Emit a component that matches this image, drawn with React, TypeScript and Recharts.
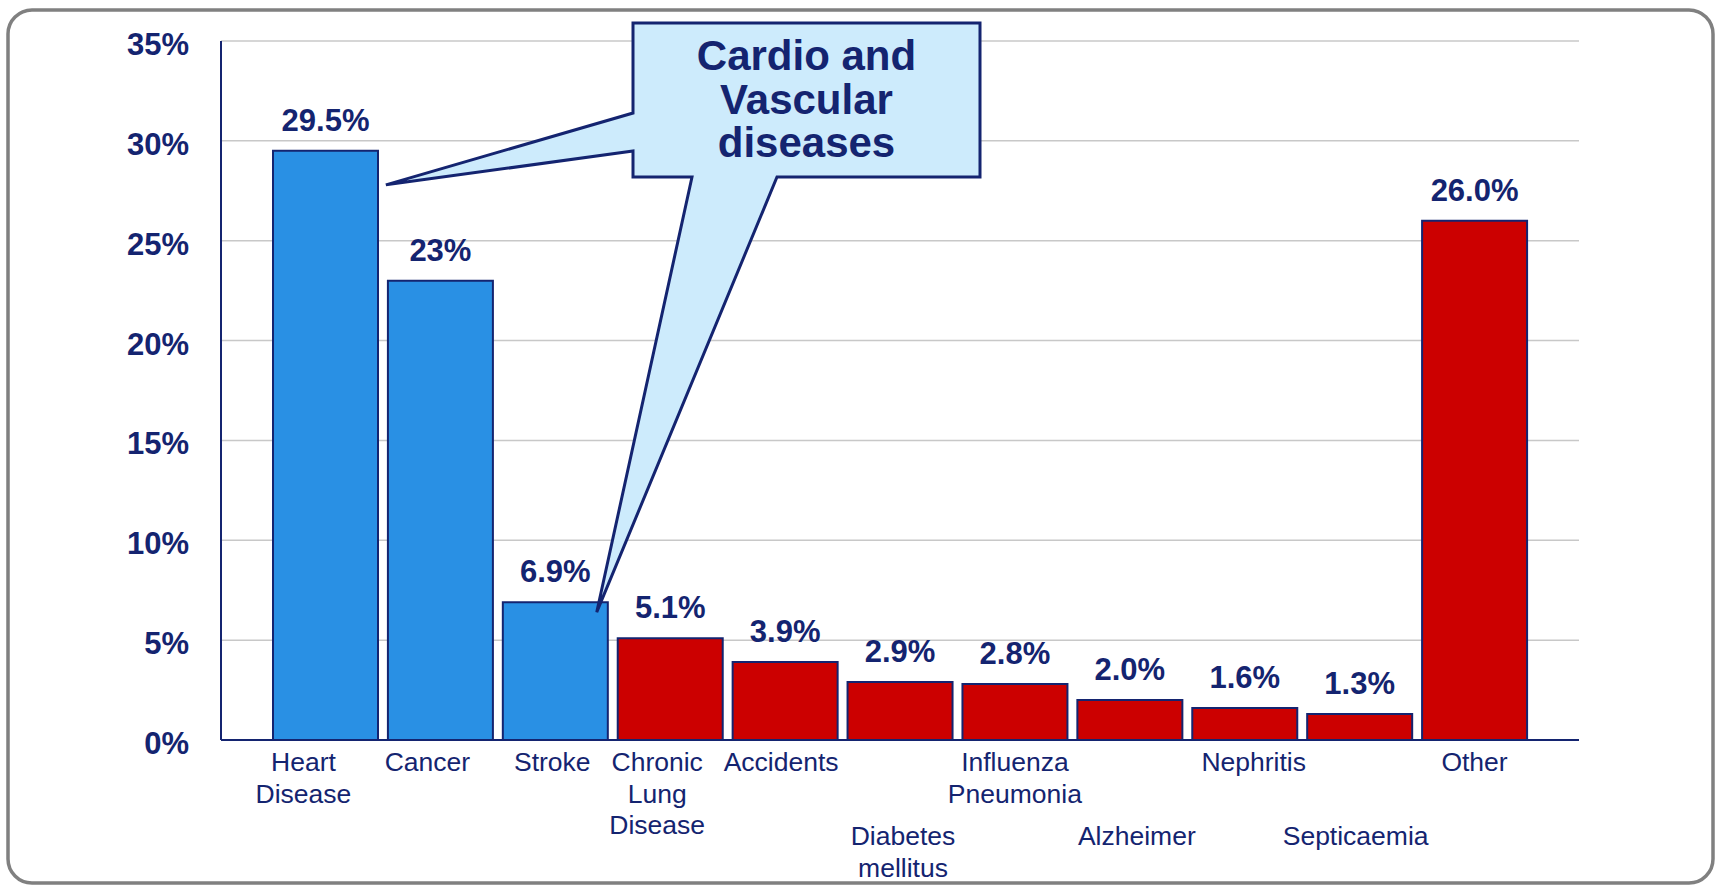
import { BarChart, Bar, XAxis, YAxis, CartesianGrid, Cell, LabelList } from 'recharts';

const categories = [
  'Heart Disease',
  'Cancer',
  'Stroke',
  'Chronic Lung Disease',
  'Accidents',
  'Diabetes mellitus',
  'Influenza Pneumonia',
  'Alzheimer',
  'Nephritis',
  'Septicaemia',
  'Other',
];
const shares = [29.5, 23, 6.9, 5.1, 3.9, 2.9, 2.8, 2.0, 1.6, 1.3, 26.0];
const shareLabels = ['29.5%', '23%', '6.9%', '5.1%', '3.9%', '2.9%', '2.8%', '2.0%', '1.6%', '1.3%', '26.0%'];
const yTicks = [0, 5, 10, 15, 20, 25, 30, 35];
const blueCategories = ['Heart Disease', 'Cancer', 'Stroke'];
const calloutLines = ['Cardio and', 'Vascular', 'diseases'];

const data = categories.map((name, i) => ({ name, value: shares[i], label: shareLabels[i] }));

// layout
const W = 1716;
const H = 886;
const PLOT_LEFT = 221;
const PLOT_RIGHT = 1579;
const PLOT_TOP = 41;
const PLOT_BOTTOM = 740;
const Y_AXIS_W = 121;
const X_PAD = 47;
const BAR_GAP = 5;

const NAVY = '#142470';
const BLUE = '#2990e4';
const RED = '#cc0000';
const FONT = '"Liberation Sans", Arial, sans-serif';

// staggered labels sit on a second row; the original labels are not quite centred
const lowerRow = ['Diabetes mellitus', 'Alzheimer', 'Septicaemia'];
const labelShift = [-22, -13, -3, -13, -4, 3, 0, 7, 9, -4, 0];

const yOf = (v: number) => PLOT_BOTTOM - (v / 35) * (PLOT_BOTTOM - PLOT_TOP);
const band = (PLOT_RIGHT - PLOT_LEFT - 2 * X_PAD) / categories.length;
const barRight = (i: number) => PLOT_LEFT + X_PAD + (i + 1) * band - BAR_GAP;

function CategoryTick({ x, y, payload, index }: any) {
  const words = String(payload.value).split(' ');
  const first = y + (lowerRow.includes(payload.value) ? 105 : 31);
  const tx = x + (labelShift[index] || 0);
  return (
    <text x={tx} y={first} textAnchor="middle" fill={NAVY} fontSize={26.5} fontFamily={FONT}>
      {words.map((w, k) => (
        <tspan key={k} x={tx} dy={k === 0 ? 0 : 31.5}>
          {w}
        </tspan>
      ))}
    </text>
  );
}

function PercentTick({ x, y, payload }: any) {
  return (
    <text x={x} y={y + 14} textAnchor="end" fill={NAVY} fontSize={31} fontWeight="bold" fontFamily={FONT}>
      {payload.value}%
    </text>
  );
}

function Callout() {
  const box = { x1: 633, y1: 23, x2: 980, y2: 177 };
  const tipA = { x: barRight(0) + 8, y: yOf(shares[0]) + 34 };
  const tipB = { x: barRight(2) - 11, y: yOf(shares[2]) + 10 };
  const d = [
    `M ${box.x1} ${box.y1}`,
    `L ${box.x2} ${box.y1}`,
    `L ${box.x2} ${box.y2}`,
    `L 777 ${box.y2}`,
    `L ${tipB.x} ${tipB.y}`,
    `L 692 ${box.y2}`,
    `L ${box.x1} ${box.y2}`,
    `L ${box.x1} 151`,
    `L ${tipA.x} ${tipA.y}`,
    `L ${box.x1} 113`,
    'Z',
  ].join(' ');
  const cx = (box.x1 + box.x2) / 2;
  return (
    <g>
      <path d={d} fill="#cdebfc" stroke={NAVY} strokeWidth={3} strokeLinejoin="miter" />
      <text x={cx} y={70} textAnchor="middle" fill={NAVY} fontSize={42} fontWeight="bold" fontFamily={FONT}>
        {calloutLines.map((l, k) => (
          <tspan key={k} x={cx} dy={k === 0 ? 0 : 43.5}>
            {l}
          </tspan>
        ))}
      </text>
    </g>
  );
}

export default function App() {
  return (
    <div style={{ position: 'absolute', left: 0, top: 0, width: W, height: H, background: '#fff' }}>
      <BarChart
        width={W}
        height={H}
        data={data}
        barCategoryGap={BAR_GAP}
        margin={{ top: PLOT_TOP, right: W - PLOT_RIGHT, bottom: 0, left: PLOT_LEFT - Y_AXIS_W }}
      >
        <CartesianGrid vertical={false} stroke="#c8c8c8" strokeWidth={1.5} />
        <XAxis
          dataKey="name"
          interval={0}
          height={H - PLOT_BOTTOM}
          padding={{ left: X_PAD, right: X_PAD }}
          tickLine={false}
          tickSize={0}
          tickMargin={0}
          axisLine={{ stroke: NAVY, strokeWidth: 2 }}
          tick={<CategoryTick />}
        />
        <YAxis
          domain={[0, 35]}
          ticks={yTicks}
          width={Y_AXIS_W}
          tickLine={false}
          tickSize={0}
          tickMargin={32}
          axisLine={{ stroke: NAVY, strokeWidth: 2 }}
          tick={<PercentTick />}
        />
        <Bar dataKey="value" stroke={NAVY} strokeWidth={2} isAnimationActive={false}>
          {data.map((d) => (
            <Cell key={d.name} fill={blueCategories.includes(d.name) ? BLUE : RED} />
          ))}
          <LabelList
            dataKey="label"
            position="top"
            offset={20}
            fill={NAVY}
            fontSize={31}
            fontWeight="bold"
            fontFamily={FONT}
          />
        </Bar>
      </BarChart>
      <svg width={W} height={H} style={{ position: 'absolute', left: 0, top: 0, pointerEvents: 'none' }}>
        <Callout />
        <rect x={8} y={10} width={1705} height={873} rx={24} fill="none" stroke="#808080" strokeWidth={3.5} />
      </svg>
    </div>
  );
}
